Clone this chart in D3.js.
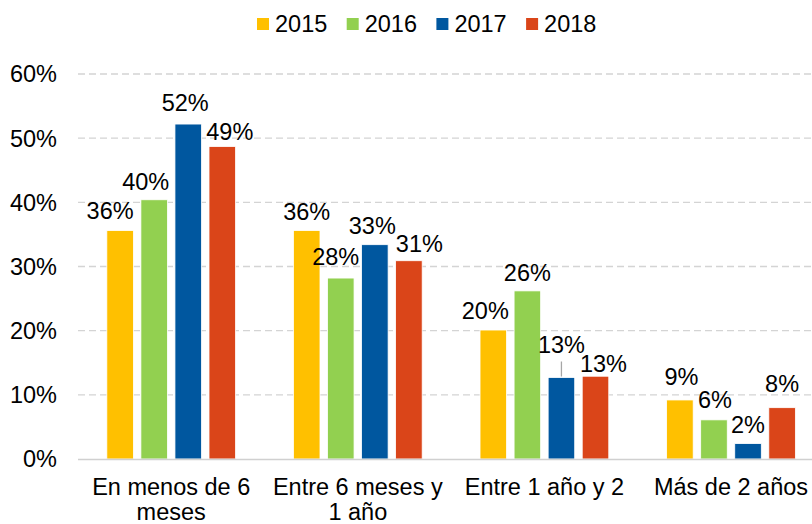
<!DOCTYPE html>
<html>
<head>
<meta charset="utf-8">
<script src="https://cdn.jsdelivr.net/npm/d3@7"></script>
<style>
  html, body { margin: 0; padding: 0; background: #fff; }
  svg text { font-family: "Liberation Sans", Arial, sans-serif; fill: #000; }
</style>
</head>
<body>
<div id="viz"></div>
<script>
const categories = [
    ["En menos de 6", "meses"],
    ["Entre 6 meses y", "1 año"],
    ["Entre 1 año y 2"],
    ["Más de 2 años"]
];
const series = ["2015", "2016", "2017", "2018"];
const colors = ["#FFC000", "#92D050", "#00579F", "#DA4519"];
const values = [
    [35.6, 40.4, 52.2, 48.7],
    [35.6, 28.2, 33.4, 30.9],
    [20.1, 26.2, 12.7, 12.9],
    [9.2, 6.1, 2.4, 8.0]
];
const yTicks = [0, 10, 20, 30, 40, 50, 60];

// manual label nudges (dx from bar centre, dy from bar top), like the dragged Excel labels
const nudges = [
    [[-10, -12], [-8.5, -10], [-3, -13.5], [7.5, -7]],
    [[0, -11], [-5, -13], [-2.5, -11], [10.5, -9]],
    [[-8, -11], [0, -10], [0, -25], [8, -4]],
    [[1.5, -15], [1, -12], [0, -10.5], [0, -16]]
];
const leader = { cat: 2, ser: 2 };

const width = 812, height = 524;
const fontSize = 23.5;

const svg = d3.select("#viz").append("svg")
    .attr("width", width)
    .attr("height", height);

const x0 = d3.scaleBand()
    .domain(d3.range(categories.length))
    .range([77.9, 824.3])
    .paddingInner(0.31)
    .paddingOuter(0.155);

const x1 = d3.scaleBand()
    .domain(series)
    .range([0, x0.bandwidth()])
    .paddingInner(0.22);

const y = d3.scaleLinear()
    .domain([0, 60])
    .range([459, 74]);

// gridlines
svg.append("g")
    .selectAll("line")
    .data(yTicks.filter(t => t > 0))
    .enter().append("line")
    .attr("x1", 78)
    .attr("x2", width)
    .attr("y1", d => y(d))
    .attr("y2", d => y(d))
    .attr("stroke", "#d4d4d4")
    .attr("stroke-width", 1.3)
    .attr("stroke-dasharray", "7,4");

// y tick labels
svg.append("g")
    .selectAll("text")
    .data(yTicks)
    .enter().append("text")
    .attr("x", 57)
    .attr("y", d => y(d))
    .attr("dy", "0.36em")
    .attr("text-anchor", "end")
    .style("font-size", fontSize + "px")
    .text(d => d + "%");

// bars
const group = svg.selectAll(".cat")
    .data(values)
    .enter().append("g")
    .attr("class", "cat")
    .attr("transform", (d, i) => `translate(${x0(i)},0)`);

group.selectAll("rect")
    .data(d => d.map((v, j) => ({ v, j })))
    .enter().append("rect")
    .attr("x", d => x1(series[d.j]))
    .attr("y", d => y(d.v))
    .attr("width", x1.bandwidth())
    .attr("height", d => y(0) - y(d.v))
    .attr("fill", d => colors[d.j])
    .attr("stroke", "#fff")
    .attr("stroke-width", 0.8);

// x axis line
svg.append("line")
    .attr("x1", 78)
    .attr("x2", width)
    .attr("y1", y(0) + 0.5)
    .attr("y2", y(0) + 0.5)
    .attr("stroke", "#d0d0d0")
    .attr("stroke-width", 1.5);

// value labels
const fmt = d3.format(".0f");
group.each(function(row, i) {
    const g = d3.select(this);
    row.forEach((v, j) => {
        const cx = x1(series[j]) + x1.bandwidth() / 2;
        const [dx, dy] = nudges[i][j];
        if (i === leader.cat && j === leader.ser) {
            g.append("line")
                .attr("x1", cx)
                .attr("x2", cx)
                .attr("y1", y(v) - 1)
                .attr("y2", y(v) + dy + 9)
                .attr("stroke", "#a6a6a6")
                .attr("stroke-width", 1.3);
        }
        g.append("text")
            .attr("x", cx + dx)
            .attr("y", y(v) + dy)
            .attr("text-anchor", "middle")
            .style("font-size", fontSize + "px")
            .text(fmt(v) + "%");
    });
});

// category labels
svg.append("g")
    .selectAll("text")
    .data(categories)
    .enter().append("text")
    .attr("text-anchor", "middle")
    .style("font-size", fontSize + "px")
    .attr("transform", (d, i) => `translate(${x0(i) + x0.bandwidth() / 2},495)`)
    .each(function(lines) {
        d3.select(this).selectAll("tspan")
            .data(lines)
            .enter().append("tspan")
            .attr("x", 0)
            .attr("y", (d, k) => k * 25)
            .text(d => d);
    });

// legend
const legend = svg.append("g")
    .selectAll("g")
    .data(series)
    .enter().append("g")
    .attr("transform", (d, i) => `translate(${257 + i * 89.7},0)`);

legend.append("rect")
    .attr("x", 0)
    .attr("y", 18)
    .attr("width", 12)
    .attr("height", 12)
    .attr("fill", (d, i) => colors[i]);

legend.append("text")
    .attr("x", 18)
    .attr("y", 32)
    .style("font-size", fontSize + "px")
    .text(d => d);
</script>
</body>
</html>
